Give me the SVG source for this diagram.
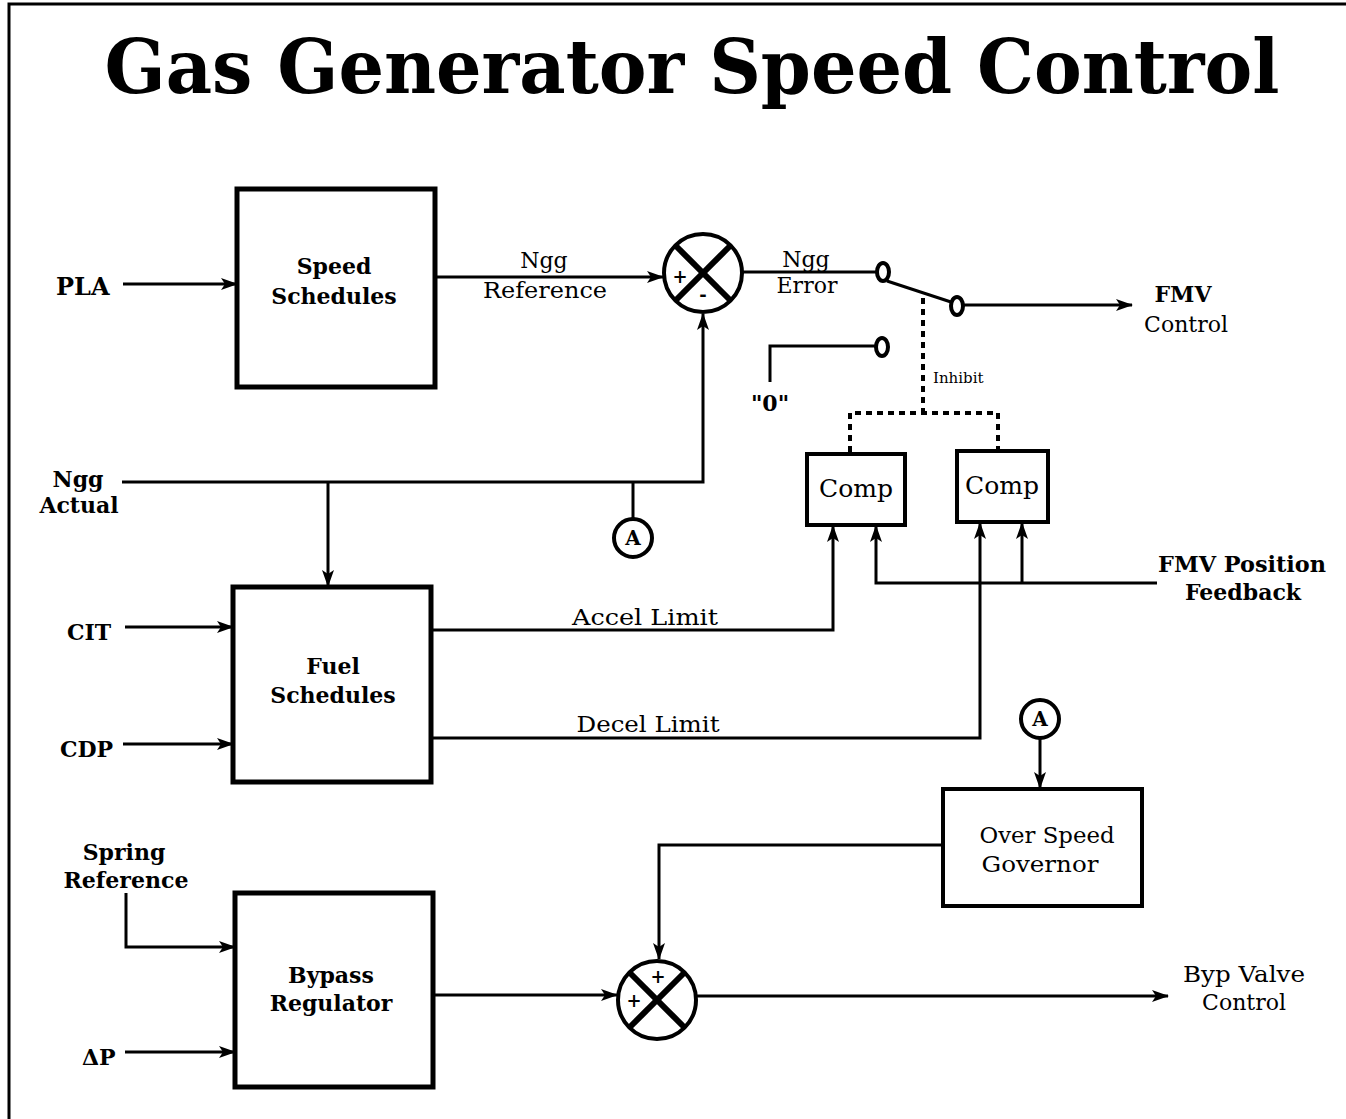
<svg xmlns="http://www.w3.org/2000/svg" width="1346" height="1119" viewBox="0 0 1346 1119">
<style>
text{font-family:"DejaVu Serif","Liberation Serif",serif;fill:#000}
.b{font-weight:bold}
.lbl{font-size:22px}
.mid{text-anchor:middle}
.box{fill:#fff;stroke:#000;stroke-width:5}
.sbox{fill:#fff;stroke:#000;stroke-width:4}
.ln{fill:none;stroke:#000;stroke-width:3}
.arr{fill:none;stroke:#000;stroke-width:3;marker-end:url(#ah)}
.dot{fill:none;stroke:#000;stroke-width:4;stroke-dasharray:6 5}
.sum{fill:#fff;stroke:#000;stroke-width:4}
.x{stroke:#000;stroke-width:6}
.ct{fill:#fff;stroke:#000;stroke-width:4}
</style>
<defs>
<marker id="ah" markerWidth="17" markerHeight="12" refX="16" refY="6" orient="auto" markerUnits="userSpaceOnUse">
<path d="M0,0 L17,6 L0,12 L4,6 z" fill="#000"/>
</marker>
</defs>
<rect width="1346" height="1119" fill="#fff"/>
<path d="M9,1119 V4 H1346" fill="none" stroke="#000" stroke-width="3"/>
<text x="692" y="93" class="b mid" font-size="74" textLength="1175" lengthAdjust="spacingAndGlyphs">Gas Generator Speed Control</text>

<g id="connectors">
<line class="arr" x1="123" y1="284" x2="237" y2="284"/>
<line class="arr" x1="435" y1="277" x2="663" y2="277"/>
<line class="ln" x1="742" y1="272" x2="877" y2="272"/>
<line class="ln" x1="887" y1="281" x2="951" y2="302"/>
<line class="arr" x1="964" y1="305" x2="1132" y2="305"/>
<polyline class="ln" points="770,382 770,346 876,346"/>
<polyline class="arr" points="122,482 703,482 703,314"/>
<line class="arr" x1="328" y1="482" x2="328" y2="586"/>
<line class="ln" x1="633" y1="482" x2="633" y2="519"/>
<line class="arr" x1="125" y1="627" x2="233" y2="627"/>
<line class="arr" x1="123" y1="744" x2="233" y2="744"/>
<polyline class="arr" points="431,630 833,630 833,526"/>
<polyline class="arr" points="431,738 980,738 980,523"/>
<polyline class="arr" points="1157,583 876,583 876,526"/>
<line class="arr" x1="1022" y1="583" x2="1022" y2="523"/>
<line class="dot" x1="923" y1="298" x2="923" y2="413"/>
<polyline class="dot" points="850,452 850,413 998,413 998,449"/>
<line class="arr" x1="1040" y1="738" x2="1040" y2="788"/>
<polyline class="arr" points="943,845 659,845 659,959"/>
<polyline class="arr" points="126,893 126,947 235,947"/>
<line class="arr" x1="125" y1="1052" x2="235" y2="1052"/>
<line class="arr" x1="433" y1="995" x2="617" y2="995"/>
<line class="arr" x1="697" y1="996" x2="1168" y2="996"/>
</g>

<g id="speed-schedules">
<rect class="box" x="237" y="189" width="198" height="198"/>
<text class="b lbl mid" x="334" y="274">Speed</text>
<text class="b lbl mid" x="334" y="304">Schedules</text>
</g>

<g id="fuel-schedules">
<rect class="box" x="233" y="587" width="198" height="195"/>
<text class="b lbl mid" x="333" y="674">Fuel</text>
<text class="b lbl mid" x="333" y="703">Schedules</text>
</g>

<g id="bypass-regulator">
<rect class="box" x="235" y="893" width="198" height="194"/>
<text class="b lbl mid" x="331" y="983">Bypass</text>
<text class="b lbl mid" x="331" y="1011">Regulator</text>
</g>

<g id="comp1">
<rect class="sbox" x="807" y="454" width="98" height="71"/>
<text class="mid" x="856" y="497" font-size="24" textLength="74" lengthAdjust="spacingAndGlyphs">Comp</text>
</g>

<g id="comp2">
<rect class="sbox" x="957" y="451" width="91" height="71"/>
<text class="mid" x="1002" y="494" font-size="24" textLength="74" lengthAdjust="spacingAndGlyphs">Comp</text>
</g>

<g id="over-speed-governor">
<rect class="sbox" x="943" y="789" width="199" height="117"/>
<text class="lbl mid" x="1047" y="843" textLength="135" lengthAdjust="spacingAndGlyphs">Over Speed</text>
<text class="lbl mid" x="1040" y="872" textLength="117" lengthAdjust="spacingAndGlyphs">Governor</text>
</g>

<g id="sum1">
<circle class="sum" cx="703" cy="273" r="39"/>
<line class="x" x1="675" y1="245" x2="731" y2="301"/>
<line class="x" x1="731" y1="245" x2="675" y2="301"/>
<text class="b mid" x="680" y="283" font-size="18">+</text>
<text class="b mid" x="703" y="301" font-size="18">-</text>
</g>

<g id="sum2">
<circle class="sum" cx="657" cy="1000" r="39"/>
<line class="x" x1="629" y1="972" x2="685" y2="1028"/>
<line class="x" x1="685" y1="972" x2="629" y2="1028"/>
<text class="b mid" x="658" y="983" font-size="18">+</text>
<text class="b mid" x="634" y="1007" font-size="18">+</text>
</g>

<g id="switch">
<ellipse class="ct" cx="883" cy="272" rx="6" ry="9"/>
<ellipse class="ct" cx="957" cy="306" rx="6" ry="9"/>
<ellipse class="ct" cx="882" cy="347" rx="6" ry="9"/>
</g>

<g id="connector-A1">
<circle class="sum" cx="633" cy="538" r="19" stroke-width="3"/>
<text class="b mid" x="633" y="545" font-size="20">A</text>
</g>
<g id="connector-A2">
<circle class="sum" cx="1040" cy="719" r="19" stroke-width="3"/>
<text class="b mid" x="1040" y="726" font-size="20">A</text>
</g>

<g id="labels">
<text class="b" x="56" y="295" font-size="24">PLA</text>
<text class="lbl mid" x="544" y="268">Ngg</text>
<text class="lbl mid" x="545" y="298" textLength="124" lengthAdjust="spacingAndGlyphs">Reference</text>
<text class="lbl mid" x="806" y="267">Ngg</text>
<text class="lbl mid" x="807" y="293">Error</text>
<text class="b lbl mid" x="1183" y="302">FMV</text>
<text class="lbl mid" x="1186" y="332">Control</text>
<text x="933" y="383" font-size="15">Inhibit</text>
<text class="b lbl mid" x="770" y="411">"0"</text>
<text class="b lbl mid" x="78" y="487">Ngg</text>
<text class="b lbl mid" x="79" y="513">Actual</text>
<text class="lbl mid" x="645" y="625" textLength="146" lengthAdjust="spacingAndGlyphs">Accel Limit</text>
<text class="lbl mid" x="648" y="732" textLength="143" lengthAdjust="spacingAndGlyphs">Decel Limit</text>
<text class="b lbl mid" x="1242" y="572" textLength="168" lengthAdjust="spacingAndGlyphs">FMV Position</text>
<text class="b lbl mid" x="1243" y="600">Feedback</text>
<text class="b lbl" x="67" y="640">CIT</text>
<text class="b lbl" x="60" y="757">CDP</text>
<text class="b lbl mid" x="124" y="860">Spring</text>
<text class="b lbl mid" x="126" y="888" textLength="125" lengthAdjust="spacingAndGlyphs">Reference</text>
<text class="b lbl" x="82" y="1065">ΔP</text>
<text class="lbl mid" x="1244" y="982" textLength="122" lengthAdjust="spacingAndGlyphs">Byp Valve</text>
<text class="lbl mid" x="1244" y="1010">Control</text>
</g>
</svg>
